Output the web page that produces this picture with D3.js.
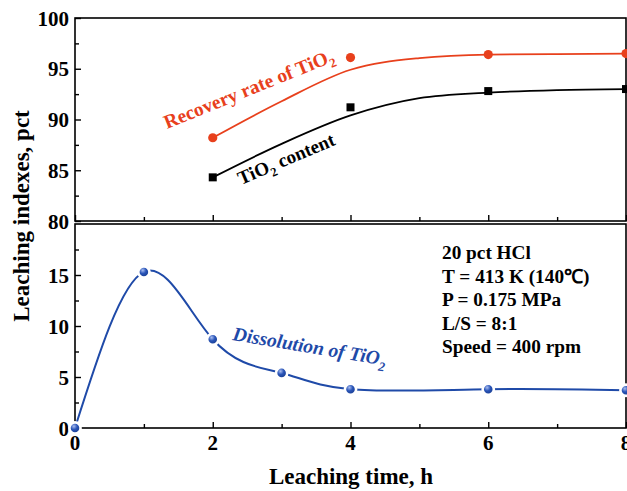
<!DOCTYPE html>
<html><head><meta charset="utf-8">
<script src="https://cdn.jsdelivr.net/npm/d3@7"></script>
<style>
html,body{margin:0;padding:0;background:#fff;overflow:hidden;}
svg{display:block;font-family:"Liberation Serif","Times New Roman",serif;font-weight:bold;}
</style></head>
<body><svg id="c" width="627" height="491"></svg>
<script>
// ---- data ----
const topX = [2, 4, 6, 8];
const recoveryRate = [88.2, 96.1, 96.4, 96.5];
const tio2Content = [84.3, 91.2, 92.8, 93.0];
const fitX = [2, 3, 4, 5, 6, 7, 8];
const recoveryFit = [88.2, 91.8, 94.9, 96.05, 96.4, 96.45, 96.5];
const contentFit = [84.3, 87.6, 90.4, 92.1, 92.65, 92.9, 93.0];
const dissX = [0, 1, 2, 3, 4, 6, 8];
const dissolution = [0, 15.3, 8.7, 5.4, 3.8, 3.8, 3.7];
const xTicks = [0, 2, 4, 6, 8];
const topYTicks = [80, 85, 90, 95, 100];
const botYTicks = [0, 5, 10, 15];
const conditions = ["20 pct HCl", "T = 413 K (140\u2103)", "P = 0.175 MPa", "L/S = 8:1", "Speed = 400 rpm"];

const svg = d3.select("#c");
const L = 75, R = 626;
const x = d3.scaleLinear().domain([0, 8]).range([L, R]);
const yT = d3.scaleLinear().domain([80, 100]).range([221, 18]);
const yB = d3.scaleLinear().domain([0, 20]).range([428, 224]);
const RED = "#e8401c", BLUE = "#1f4aa8";

const defs = svg.append("defs");
const g = defs.append("radialGradient").attr("id", "ball").attr("cx", "40%").attr("cy", "35%").attr("r", "65%");
g.append("stop").attr("offset", "0%").attr("stop-color", "#a9bdf0");
g.append("stop").attr("offset", "45%").attr("stop-color", "#2a55b8");
g.append("stop").attr("offset", "100%").attr("stop-color", "#163a8c");

function frame(y, minorY, majorY, labelY) {
  const [y0, y1] = y.range();
  svg.append("rect").attr("x", L).attr("y", y1).attr("width", R - L).attr("height", y0 - y1)
    .attr("fill", "none").attr("stroke", "#000").attr("stroke-width", 1.6);
  const yAx = d3.axisRight(y).tickValues(minorY).tickSize(4).tickFormat("");
  svg.append("g").attr("transform", `translate(${L},0)`).call(yAx)
    .call(s => s.select(".domain").remove()).selectAll("line").attr("stroke-width", 1.4);
  const yAx2 = d3.axisRight(y).tickValues(majorY).tickSize(6).tickFormat("");
  svg.append("g").attr("transform", `translate(${L},0)`).call(yAx2)
    .call(s => s.select(".domain").remove()).selectAll("line").attr("stroke-width", 1.4);
  svg.append("g").selectAll("text").data(labelY).join("text")
    .attr("x", L - 6).attr("y", d => y(d)).attr("dy", "0.36em").attr("text-anchor", "end")
    .attr("font-size", 21).text(d => d);
  const xAxMin = d3.axisTop(x).tickValues([1, 3, 5, 7]).tickSize(4).tickFormat("");
  svg.append("g").attr("transform", `translate(0,${y0})`).call(xAxMin)
    .call(s => s.select(".domain").remove()).selectAll("line").attr("stroke-width", 1.4);
  const xAxMaj = d3.axisTop(x).tickValues(xTicks).tickSize(6).tickFormat("");
  svg.append("g").attr("transform", `translate(0,${y0})`).call(xAxMaj)
    .call(s => s.select(".domain").remove()).selectAll("line").attr("stroke-width", 1.4);
}
frame(yT, [82.5, 87.5, 92.5, 97.5], topYTicks, topYTicks);
frame(yB, [2.5, 7.5, 12.5, 17.5], botYTicks, botYTicks);

// x tick labels
svg.append("g").selectAll("text").data(xTicks).join("text")
  .attr("x", d => x(d)).attr("y", 450).attr("text-anchor", "middle").attr("font-size", 21).text(d => d);

// axis titles
svg.append("text").attr("x", 351).attr("y", 484).attr("text-anchor", "middle").attr("font-size", 23)
  .text("Leaching time, h");
svg.append("text").attr("transform", "translate(29,216) rotate(-90)").attr("text-anchor", "middle")
  .attr("font-size", 23).text("Leaching indexes, pct");

// top panel fits
const lineT = d3.line().x(d => x(d[0])).y(d => yT(d[1])).curve(d3.curveMonotoneX);
svg.append("path").attr("d", lineT(d3.zip(fitX, recoveryFit))).attr("fill", "none").attr("stroke", RED).attr("stroke-width", 1.8);
svg.append("path").attr("d", lineT(d3.zip(fitX, contentFit))).attr("fill", "none").attr("stroke", "#000").attr("stroke-width", 1.8);
svg.append("g").selectAll("circle").data(d3.zip(topX, recoveryRate)).join("circle")
  .attr("cx", d => x(d[0])).attr("cy", d => yT(d[1])).attr("r", 4.6).attr("fill", RED);
svg.append("g").selectAll("rect").data(d3.zip(topX, tio2Content)).join("rect")
  .attr("x", d => x(d[0]) - 4).attr("y", d => yT(d[1]) - 4).attr("width", 8).attr("height", 8).attr("fill", "#000");

// bottom panel
const lineB = d3.line().x(d => x(d[0])).y(d => yB(d[1])).curve(d3.curveNatural);
svg.append("path").attr("d", lineB(d3.zip(dissX, dissolution))).attr("fill", "none").attr("stroke", BLUE).attr("stroke-width", 2);
svg.append("g").selectAll("circle").data(d3.zip(dissX, dissolution)).join("circle")
  .attr("cx", d => x(d[0])).attr("cy", d => yB(d[1])).attr("r", 5.6)
  .attr("fill", "url(#ball)").attr("stroke", "#fff").attr("stroke-width", 2.6);

// labels
const t1 = svg.append("text").attr("transform", "translate(167,129) rotate(-22)").attr("fill", RED).attr("font-size", 19.5);
t1.append("tspan").text("Recovery rate of TiO");
t1.append("tspan").attr("font-size", 13).attr("dy", 5).text("2");
const t2 = svg.append("text").attr("transform", "translate(241,185) rotate(-23)").attr("fill", "#000").attr("font-size", 19);
t2.append("tspan").text("TiO");
t2.append("tspan").attr("font-size", 12.5).attr("dy", 5).text("2");
t2.append("tspan").attr("dy", -5).text(" content");
const t3 = svg.append("text").attr("transform", "translate(232,340) rotate(9.5)").attr("fill", BLUE)
  .attr("font-size", 19.5).attr("font-style", "italic");
t3.append("tspan").text("Dissolution of TiO");
t3.append("tspan").attr("font-size", 13).attr("dy", 6).text("2");

svg.append("g").selectAll("text").data(conditions).join("text")
  .attr("x", 442).attr("y", (d, i) => 259 + i * 23.5).attr("font-size", 19.3).text(d => d);
</script></body></html>
